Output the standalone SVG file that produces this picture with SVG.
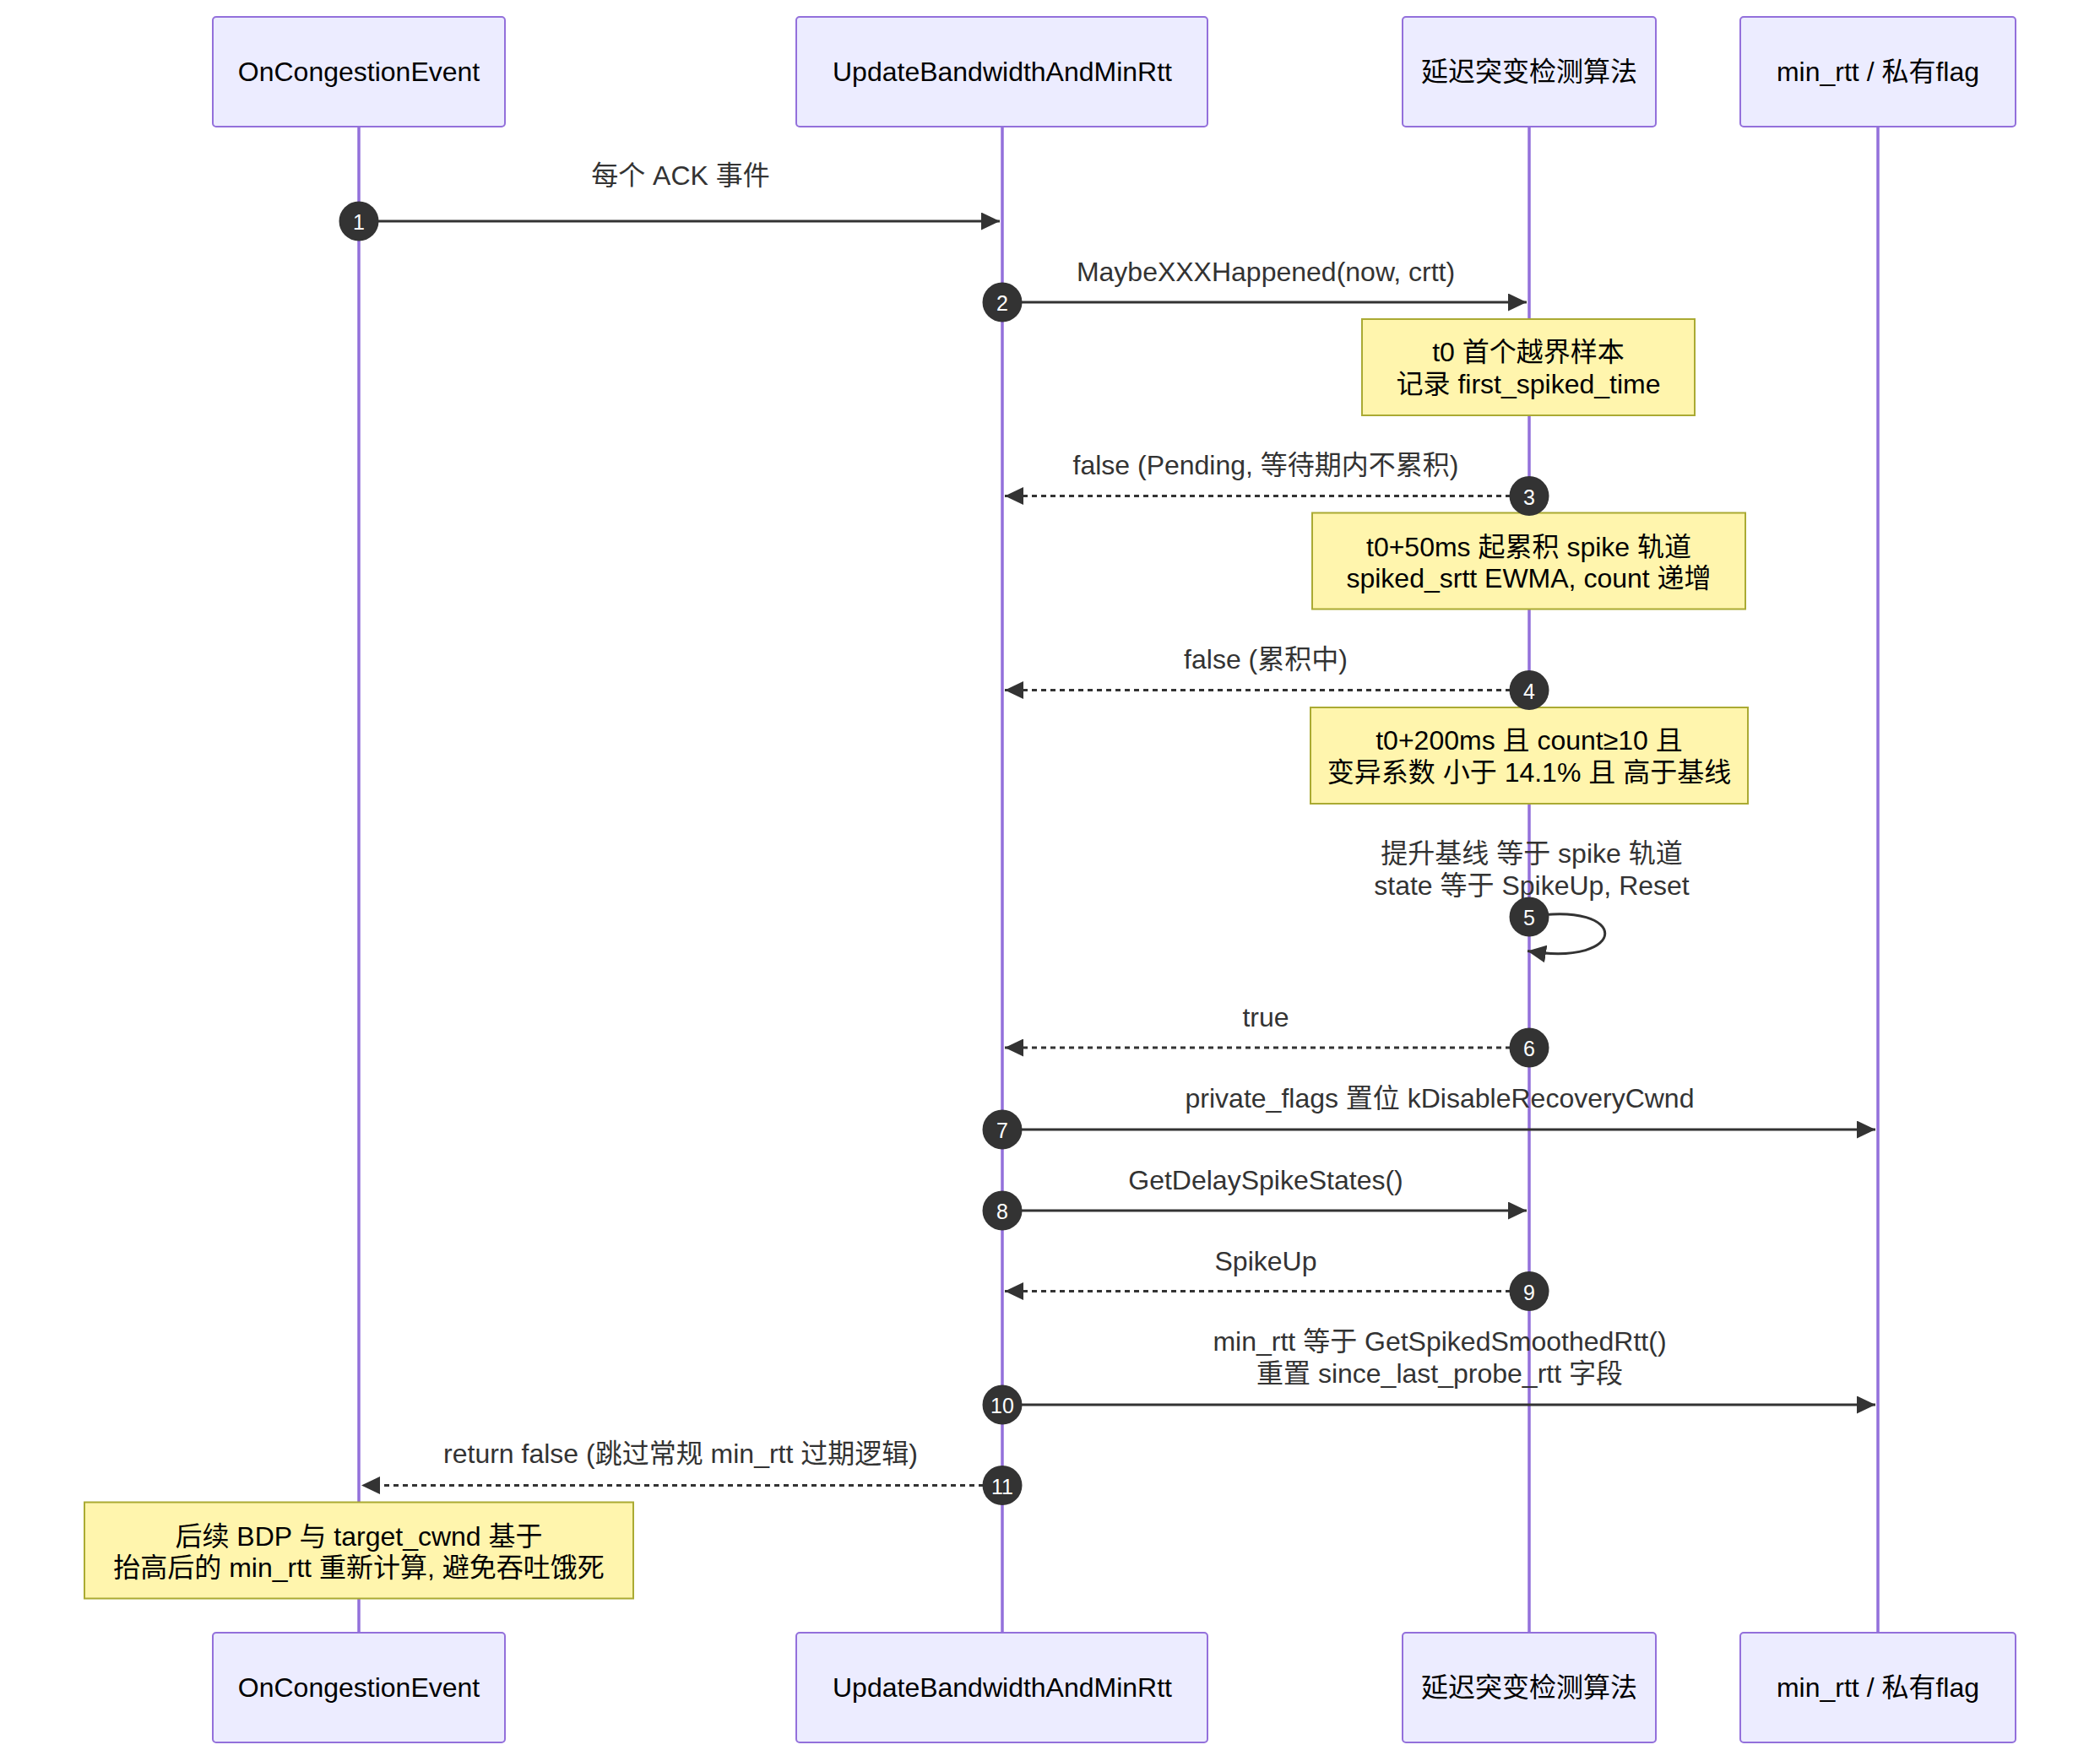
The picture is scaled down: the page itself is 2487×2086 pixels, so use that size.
<svg xmlns="http://www.w3.org/2000/svg" width="2487" height="2086" viewBox="0 0 2487 2086">
<defs>
<style>
text{font-family:"Liberation Sans","Noto Sans CJK SC",sans-serif;font-size:32px;text-anchor:middle;dominant-baseline:central}
.actor rect{fill:#ECECFF;stroke:#9370DB;stroke-width:2}
.actor text{fill:#000}
.life{stroke:#9370DB;stroke-width:3.5}
.note rect{fill:#fff5ad;stroke:#aaaa33;stroke-width:2}
.note text{fill:#000}
.msg{stroke:#333;stroke-width:3;fill:none}
.dash{stroke-dasharray:6,5}
.lbl{fill:#333}
.num circle{fill:#333}
.num text{fill:#fff;font-size:25px}
</style>
<marker id="ah" markerUnits="userSpaceOnUse" viewBox="0 0 22 21" markerWidth="22" markerHeight="21" refX="22" refY="10.5" orient="auto">
<path d="M0,0 L22,10.5 L0,21 z" fill="#333"/>
</marker>
</defs>
<rect width="2487" height="2086" fill="#fff"/>

<g id="actor-OnCongestionEvent" class="actor">
<line class="life" x1="425" y1="150" x2="425" y2="1934"/>
<rect x="252" y="20" width="346" height="130" rx="4"/>
<text x="425" y="85">OnCongestionEvent</text>
<rect x="252" y="1934" width="346" height="130" rx="4"/>
<text x="425" y="1999">OnCongestionEvent</text>
</g>
<g id="actor-UpdateBandwidthAndMinRtt" class="actor">
<line class="life" x1="1187" y1="150" x2="1187" y2="1934"/>
<rect x="943" y="20" width="487" height="130" rx="4"/>
<text x="1187" y="85">UpdateBandwidthAndMinRtt</text>
<rect x="943" y="1934" width="487" height="130" rx="4"/>
<text x="1187" y="1999">UpdateBandwidthAndMinRtt</text>
</g>
<g id="actor-detector" class="actor">
<line class="life" x1="1811" y1="150" x2="1811" y2="1934"/>
<rect x="1661" y="20" width="300" height="130" rx="4"/>
<text x="1811" y="85">延迟突变检测算法</text>
<rect x="1661" y="1934" width="300" height="130" rx="4"/>
<text x="1811" y="1999">延迟突变检测算法</text>
</g>
<g id="actor-minrtt" class="actor">
<line class="life" x1="2224" y1="150" x2="2224" y2="1934"/>
<rect x="2061" y="20" width="326" height="130" rx="4"/>
<text x="2224" y="85">min_rtt / 私有flag</text>
<rect x="2061" y="1934" width="326" height="130" rx="4"/>
<text x="2224" y="1999">min_rtt / 私有flag</text>
</g>

<g id="note-1" class="note">
<rect x="1613" y="378" width="394" height="114"/>
<text x="1810" y="416.5">t0 首个越界样本</text>
<text x="1810" y="455">记录 first_spiked_time</text>
</g>
<g id="note-2" class="note">
<rect x="1554" y="607.5" width="513" height="114"/>
<text x="1810.5" y="648">t0+50ms 起累积 spike 轨道</text>
<text x="1810.5" y="685">spiked_srtt EWMA, count 递增</text>
</g>
<g id="note-3" class="note">
<rect x="1552" y="838" width="518" height="114"/>
<text x="1811" y="877">t0+200ms 且 count≥10 且</text>
<text x="1811" y="914.5">变异系数 小于 14.1% 且 高于基线</text>
</g>
<g id="note-4" class="note">
<rect x="100" y="1779.5" width="650" height="114"/>
<text x="425" y="1820">后续 BDP 与 target_cwnd 基于</text>
<text x="425" y="1857">抬高后的 min_rtt 重新计算, 避免吞吐饿死</text>
</g>

<g id="connectors">
<text class="lbl" x="806" y="208">每个 ACK 事件</text>
<line class="msg" x1="425" y1="262" x2="1184" y2="262" marker-end="url(#ah)"/>

<text class="lbl" x="1499" y="322">MaybeXXXHappened(now, crtt)</text>
<line class="msg" x1="1187" y1="358" x2="1808" y2="358" marker-end="url(#ah)"/>

<text class="lbl" x="1499" y="551">false (Pending, 等待期内不累积)</text>
<line class="msg dash" x1="1811" y1="587.5" x2="1190" y2="587.5" marker-end="url(#ah)"/>

<text class="lbl" x="1499" y="781">false (累积中)</text>
<line class="msg dash" x1="1811" y1="817.5" x2="1190" y2="817.5" marker-end="url(#ah)"/>

<text class="lbl" x="1814" y="1010.5">提升基线 等于 spike 轨道</text>
<text class="lbl" x="1814" y="1049">state 等于 SpikeUp, Reset</text>
<path class="msg" d="M1811,1086 C1931,1066 1931,1146 1809,1126.5" marker-end="url(#ah)"/>

<text class="lbl" x="1499" y="1205">true</text>
<line class="msg dash" x1="1811" y1="1241" x2="1190" y2="1241" marker-end="url(#ah)"/>

<text class="lbl" x="1705" y="1301">private_flags 置位 kDisableRecoveryCwnd</text>
<line class="msg" x1="1187" y1="1338" x2="2221" y2="1338" marker-end="url(#ah)"/>

<text class="lbl" x="1499" y="1398">GetDelaySpikeStates()</text>
<line class="msg" x1="1187" y1="1434" x2="1808" y2="1434" marker-end="url(#ah)"/>

<text class="lbl" x="1499" y="1494">SpikeUp</text>
<line class="msg dash" x1="1811" y1="1529.5" x2="1190" y2="1529.5" marker-end="url(#ah)"/>

<text class="lbl" x="1705" y="1589">min_rtt 等于 GetSpikedSmoothedRtt()</text>
<text class="lbl" x="1705" y="1626.5">重置 since_last_probe_rtt 字段</text>
<line class="msg" x1="1187" y1="1664" x2="2221" y2="1664" marker-end="url(#ah)"/>

<text class="lbl" x="806" y="1722">return false (跳过常规 min_rtt 过期逻辑)</text>
<line class="msg dash" x1="1187" y1="1759.5" x2="428" y2="1759.5" marker-end="url(#ah)"/>

<g class="num">
<circle cx="425" cy="262" r="23.5"/><text x="425" y="263">1</text>
<circle cx="1187" cy="358" r="23.5"/><text x="1187" y="359">2</text>
<circle cx="1811" cy="587.5" r="23.5"/><text x="1811" y="588.5">3</text>
<circle cx="1811" cy="817.5" r="23.5"/><text x="1811" y="818.5">4</text>
<circle cx="1811" cy="1086" r="23.5"/><text x="1811" y="1087">5</text>
<circle cx="1811" cy="1241" r="23.5"/><text x="1811" y="1242">6</text>
<circle cx="1187" cy="1338" r="23.5"/><text x="1187" y="1339">7</text>
<circle cx="1187" cy="1434" r="23.5"/><text x="1187" y="1435">8</text>
<circle cx="1811" cy="1529.5" r="23.5"/><text x="1811" y="1530.5">9</text>
<circle cx="1187" cy="1664" r="23.5"/><text x="1187" y="1665">10</text>
<circle cx="1187" cy="1759.5" r="23.5"/><text x="1187" y="1760.5">11</text>
</g>
</g>
</svg>
